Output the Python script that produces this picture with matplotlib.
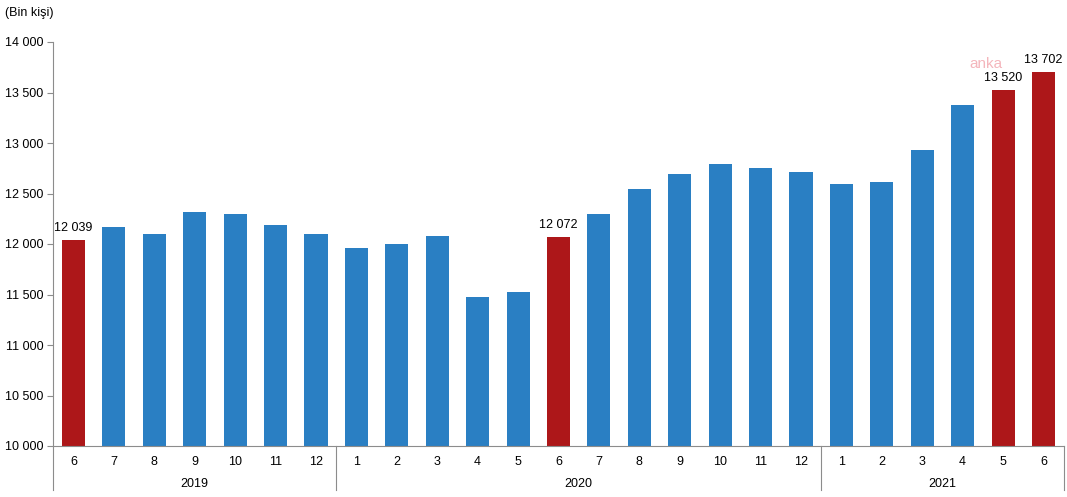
import matplotlib
matplotlib.use("Agg")
import matplotlib.pyplot as plt
import matplotlib.transforms as mtransforms

plt.rcParams['font.family'] = ['Liberation Sans', 'DejaVu Sans']

months = ["6", "7", "8", "9", "10", "11", "12",
          "1", "2", "3", "4", "5", "6", "7", "8", "9", "10", "11", "12",
          "1", "2", "3", "4", "5", "6"]
years = ["2019", "2020", "2021"]
year_counts = [7, 12, 6]
values = [12039, 12170, 12100, 12317, 12297, 12188, 12099,
          11960, 12000, 12079, 11475, 11525, 12072, 12297, 12545, 12693,
          12792, 12752, 12713,
          12594, 12614, 12930, 13376, 13520, 13702]
highlight = [0, 12, 23, 24]
yticks = [10000, 10500, 11000, 11500, 12000, 12500, 13000, 13500, 14000]

blue = "#2A7FC3"
red = "#AD1719"
axis_gray = "#8C8C8C"

fig = plt.figure(figsize=(10.67, 4.97), dpi=100)
ax = fig.add_axes([53.3 / 1067, 1 - 446 / 497, (1063.7 - 53.3) / 1067, (446 - 42) / 497])

x = list(range(len(values)))
colors = [red if i in highlight else blue for i in x]
ax.bar(x, values, width=0.57, color=colors, bottom=0)
ax.set_xlim(-0.5, len(values) - 0.5)
ax.set_ylim(10000, 14000)

ax.set_yticks(yticks)
ax.set_yticklabels([f"{v:,}".replace(",", " ") for v in yticks], fontsize=9)
ax.tick_params(axis='y', direction='out', length=4, color=axis_gray, pad=3)
ax.set_xticks(x)
ax.set_xticklabels(months, fontsize=9)
ax.tick_params(axis='x', length=0, pad=7)

for s in ['top', 'right']:
    ax.spines[s].set_visible(False)
ax.spines['left'].set_color(axis_gray)
ax.spines['bottom'].set_color(axis_gray)

# data labels
for i in highlight:
    ax.text(i, values[i] + 60, f"{values[i]:,}".replace(",", " "),
            ha='center', va='bottom', fontsize=9)

# year separators and labels
trans = mtransforms.blended_transform_factory(ax.transData, ax.transAxes)
edges = [-0.5]
for c in year_counts:
    edges.append(edges[-1] + c)
for e in edges:
    ax.plot([e, e], [0, -44 / 404], transform=trans, color=axis_gray,
            lw=0.8, clip_on=False)
for k, yr in enumerate(years):
    mid = (edges[k] + edges[k + 1]) / 2
    ax.text(mid, -38 / 404, yr, transform=trans, ha='center', va='center', fontsize=9)

fig.text(5 / 1067, 1 - 13 / 497, "(Bin kişi)", ha='left', va='center', fontsize=9)
ax.text(23 - 0.42, 13715, "anka", ha='center', va='bottom', fontsize=11,
        color="#F4B6BC")

fig.savefig("out.png", dpi=100)
